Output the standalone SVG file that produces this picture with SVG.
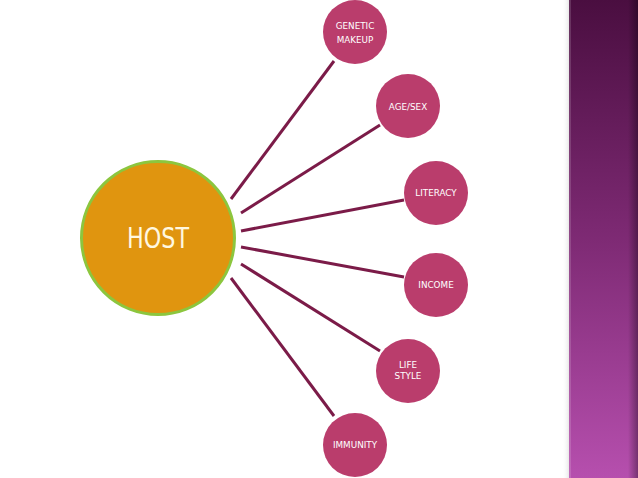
<svg xmlns="http://www.w3.org/2000/svg" width="638" height="478" viewBox="0 0 638 478">
<defs>
<linearGradient id="strip" x1="0" y1="0" x2="0" y2="1">
<stop offset="0" stop-color="#4a0e40"/>
<stop offset="0.5" stop-color="#7e2a74"/>
<stop offset="1" stop-color="#b64fae"/>
</linearGradient>
<linearGradient id="edge" x1="0" y1="0" x2="1" y2="0">
<stop offset="0" stop-color="#000" stop-opacity="0"/>
<stop offset="1" stop-color="#000" stop-opacity="0.35"/>
</linearGradient>
<linearGradient id="shadow" x1="0" y1="0" x2="1" y2="0">
<stop offset="0" stop-color="#fff" stop-opacity="0"/>
<stop offset="1" stop-color="#d8d8d8" stop-opacity="0.6"/>
</linearGradient>
</defs>
<style>
.node circle{fill:#ba3d6c;}
.node text{fill:#fff;font-family:"DejaVu Sans","Liberation Sans",sans-serif;font-size:8.8px;text-anchor:middle;}
.conn line{stroke:#7b1b48;stroke-width:3;}
</style>
<rect width="638" height="478" fill="#fff"/>
<rect x="562" y="0" width="7" height="478" fill="url(#shadow)"/>
<rect x="569" y="0" width="69" height="478" fill="url(#strip)"/>
<rect x="569" y="0" width="2" height="478" fill="#fff" opacity="0.15"/>
<rect x="628" y="0" width="10" height="478" fill="url(#edge)"/>
<g class="conn">
<line x1="231" y1="199" x2="334" y2="61"/>
<line x1="241" y1="213" x2="380" y2="125"/>
<line x1="241" y1="231" x2="404" y2="200"/>
<line x1="241" y1="247" x2="404" y2="277"/>
<line x1="241" y1="264" x2="380" y2="351"/>
<line x1="231" y1="278" x2="334" y2="416"/>
</g>
<g id="host">
<circle cx="158" cy="238" r="76.5" fill="#e0950f" stroke="#8cc63e" stroke-width="3"/>
<text x="158" y="248" fill="#fff8e0" font-family="DejaVu Sans, Liberation Sans, sans-serif" font-size="28" text-anchor="middle" textLength="62" lengthAdjust="spacingAndGlyphs">HOST</text>
</g>
<g id="genetic" class="node">
<circle cx="355" cy="32" r="32"/>
<text x="355" y="29">GENETIC</text>
<text x="355" y="43">MAKEUP</text>
</g>
<g id="agesex" class="node">
<circle cx="408" cy="106" r="32"/>
<text x="408" y="110">AGE/SEX</text>
</g>
<g id="literacy" class="node">
<circle cx="436" cy="193" r="32"/>
<text x="436" y="196">LITERACY</text>
</g>
<g id="income" class="node">
<circle cx="436" cy="285" r="32"/>
<text x="436" y="288">INCOME</text>
</g>
<g id="lifestyle" class="node">
<circle cx="408" cy="371" r="32"/>
<text x="408" y="368">LIFE</text>
<text x="408" y="379">STYLE</text>
</g>
<g id="immunity" class="node">
<circle cx="355" cy="445" r="32"/>
<text x="355" y="448">IMMUNITY</text>
</g>
</svg>
